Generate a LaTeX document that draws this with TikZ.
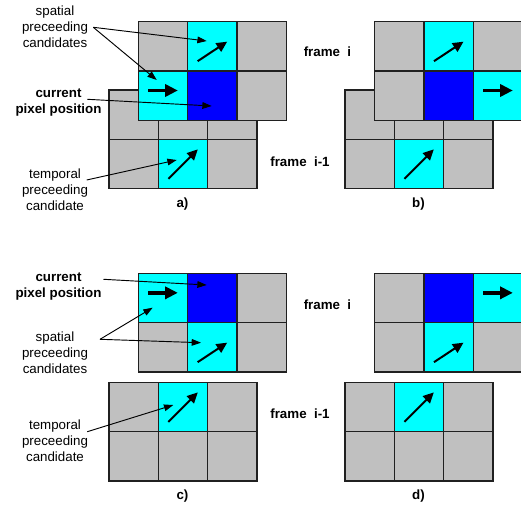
\documentclass[tikz,border=0pt]{standalone}
\usepackage{fontspec}
\setmainfont{Liberation Sans}
\usetikzlibrary{arrows.meta,calc}
\definecolor{cgray}{HTML}{C0C0C0}
\definecolor{ccyan}{HTML}{00FFFF}
\definecolor{cblue}{HTML}{0000FF}
\definecolor{cline}{HTML}{202020}
\newcommand\pixgrid[4]{%
  \foreach \col [count=\k from 0] in {#4} {%
    \pgfmathtruncatemacro\rr{div(\k,3)}%
    \pgfmathtruncatemacro\cc{mod(\k,3)}%
    \node[cell, fill=\col] (#1-\rr\cc) at ({#2+49.33*\cc+24.67},{#3+49.33*\rr+24.67}) {};%
  }%
}
\newcommand\diagup[1]{\draw[mvd] ($(#1.north west)+(10,39.5)$) -- ($(#1.north west)+(39.5,20)$);}
\newcommand\diagprev[1]{\draw[mvd] ($(#1.north west)+(10,39.5)$) -- ($(#1.north west)+(39.5,10)$);}
\newcommand\horiz[1]{\draw[mvh] ($(#1.north west)+(10,19.5)$) -- ($(#1.north west)+(39.5,19.5)$);}
\begin{document}
\begin{tikzpicture}[x=0.75pt,y=-0.75pt,
  cell/.style={draw=cline, line width=0.9pt, minimum width=37pt, minimum height=37pt, inner sep=0pt, outer sep=0pt},
  mvd/.style={line width=1.5pt, -{Triangle[length=8pt,width=7.5pt]}},
  mvh/.style={line width=2.5pt, -{Triangle[length=9.5pt,width=9pt]}},
  note/.style={line width=0.7pt, -{Triangle[length=7pt,width=5pt]}},
  lbl/.style={font=\fontsize{10}{12}\selectfont, align=center, inner sep=0pt},
  blbl/.style={font=\fontsize{10}{12}\selectfont\bfseries, align=center, inner sep=0pt}]
\useasboundingbox (0,0) rectangle (521,506);
\fill[white] (0,0) rectangle (521,506);
\clip (0,0) rectangle (521,506);

% ---- panel a ----
\pixgrid{ap}{109}{90}{cgray,cgray,cgray,cgray,ccyan,cgray}
\pixgrid{ac}{138.33}{21.67}{cgray,ccyan,cgray,ccyan,cblue,cgray}
\diagup{ac-01}
\horiz{ac-10}
\diagprev{ap-11}

% ---- panel b ----
\pixgrid{bp}{345}{90}{cgray,cgray,cgray,cgray,ccyan,cgray}
\pixgrid{bc}{374.67}{21.67}{cgray,ccyan,cgray,cgray,cblue,ccyan}
\diagup{bc-01}
\horiz{bc-12}
\diagprev{bp-11}

% ---- panel c ----
\pixgrid{cp}{109}{382.33}{cgray,ccyan,cgray,cgray,cgray,cgray}
\pixgrid{cc}{138.33}{273.33}{ccyan,cblue,cgray,cgray,ccyan,cgray}
\horiz{cc-00}
\diagup{cc-11}
\diagprev{cp-01}

% ---- panel d ----
\pixgrid{dp}{345}{382.33}{cgray,ccyan,cgray,cgray,cgray,cgray}
\pixgrid{dc}{374.67}{273.33}{cgray,cblue,ccyan,cgray,ccyan,cgray}
\horiz{dc-02}
\diagup{dc-11}
\diagprev{dp-01}

% ---- labels ----
\node[lbl]  (aspat) at (55,26.5)   {spatial\\preceeding\\candidates};
\node[blbl] (acur)  at (58.5,103)  {current\\pixel position};
\node[lbl]  (atemp) at (55,190)    {temporal\\preceeding\\candidate};
\node[blbl] (fi1)   at (327.5,52)  {frame~~i};
\node[blbl] (fp1)   at (300,162)   {frame~~i-1};
\node[blbl] (la)    at (182.5,204) {a)};
\node[blbl] (lb)    at (418.5,204) {b)};

\node[blbl] (ccur)  at (58.5,286.5) {current\\pixel position};
\node[lbl]  (cspat) at (55,353)     {spatial\\preceeding\\candidates};
\node[lbl]  (ctemp) at (55,441)     {temporal\\preceeding\\candidate};
\node[blbl] (fi2)   at (327.5,304.3) {frame~~i};
\node[blbl] (fp2)   at (300,413.3)   {frame~~i-1};
\node[blbl] (lc)    at (182.5,496)   {c)};
\node[blbl] (ld)    at (418.5,496)   {d)};

% ---- annotation connectors ----
\coordinate (sa0) at (93.3,27.3);
\coordinate (sa1) at (206.7,41);
\coordinate (sa2) at (156.7,80);
\coordinate (ca0) at (87.3,99.3);
\coordinate (ca1) at (211.7,106);
\coordinate (ta0) at (86.7,180);
\coordinate (ta1) at (176.7,160);
\draw[note] (sa0) -- (sa1);
\draw[note] (sa0) -- (sa2);
\draw[note] (ca0) -- (ca1);
\draw[note] (ta0) -- (ta1);

\coordinate (cc0) at (103.5,279.3);
\coordinate (cc1) at (206.7,285);
\coordinate (sc0) at (100,339.3);
\coordinate (sc1) at (152.7,307.7);
\coordinate (sc2) at (201,342.7);
\coordinate (tc0) at (87.3,431.7);
\coordinate (tc1) at (173.3,405);
\draw[note] (cc0) -- (cc1);
\draw[note] (sc0) -- (sc1);
\draw[note] (sc0) -- (sc2);
\draw[note] (tc0) -- (tc1);
\end{tikzpicture}
\end{document}
